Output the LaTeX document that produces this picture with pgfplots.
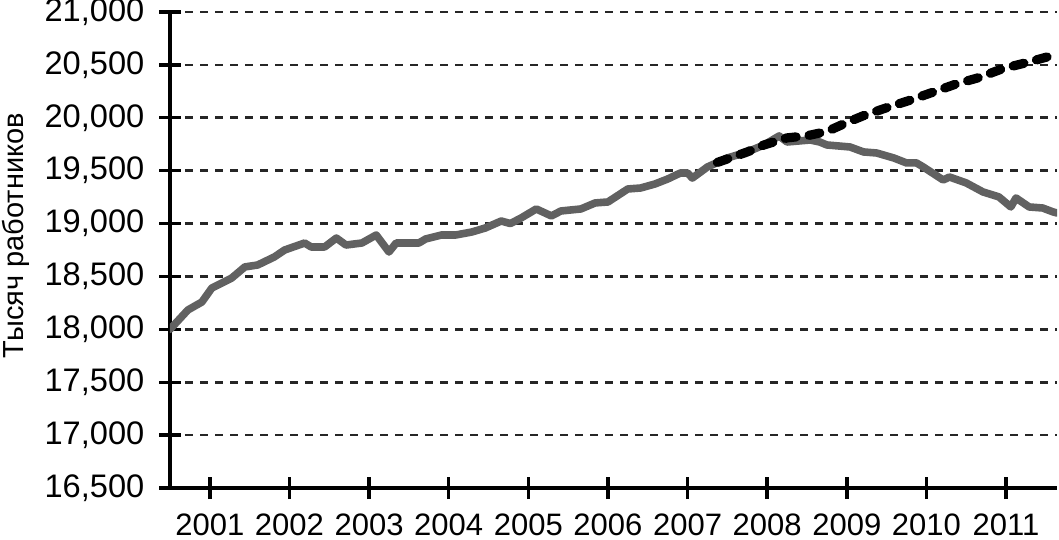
\documentclass[border=0pt]{standalone}
\usepackage{pgfplots}
\pgfplotsset{compat=1.18}
\usepackage{fontspec}
\setmainfont{Liberation Sans}
\begin{document}
\fontsize{14}{16}\selectfont
\begin{tikzpicture}
\begin{axis}[
  name=ax,
  scale only axis,
  width=443.5pt, height=238pt,
  xmin=2000.5, xmax=2011.64,
  ymin=16500, ymax=21000,
  axis lines=left,
  axis line style={-, line width=1.7pt, black},
  xtick={2001,2002,2003,2004,2005,2006,2007,2008,2009,2010,2011},
  xticklabels={2001,2002,2003,2004,2005,2006,2007,2008,2009,2010,2011},
  ytick={16500,17000,17500,18000,18500,19000,19500,20000,20500,21000},
  yticklabels={{16,500},{17,000},{17,500},{18,000},{18,500},{19,000},{19,500},{20,000},{20,500},{21,000}},
  tick align=center,
  major tick length=11pt,
  tick style={line width=1.7pt, black},
  ymajorgrids,
  grid style={dash pattern=on 4pt off 3.5pt, line width=1.3pt, black!85},
  xticklabel style={font=\fontsize{15.5}{17}\selectfont, anchor=north, yshift=-2.5pt},
  yticklabel style={font=\fontsize{16.3}{18}\selectfont, anchor=east, xshift=-2.5pt},
  ylabel={Тысяч работников},
  ylabel style={font=\fontsize{14.5}{16}\selectfont, at={([xshift=-77pt]axis description cs:0,0.53)}, anchor=center, rotate=0},
  clip=true,
]
\addplot[line width=3.8pt, color=black!62, line join=round, line cap=round] coordinates {
(2000.5,18000) (2000.725,18183) (2000.9,18258) (2001.025,18390) (2001.275,18485)
(2001.44,18590) (2001.6,18608) (2001.81,18684) (2001.94,18750) (2002.19,18816)
(2002.275,18778) (2002.44,18778) (2002.59,18863) (2002.71,18797) (2002.91,18816)
(2003.09,18892) (2003.25,18731) (2003.34,18816) (2003.625,18816) (2003.71,18854)
(2003.91,18892) (2004.09,18892) (2004.29,18920) (2004.46,18958) (2004.66,19024)
(2004.775,19000) (2004.91,19053) (2005.1,19138) (2005.29,19072) (2005.41,19119)
(2005.66,19138) (2005.84,19195) (2006.0,19204) (2006.25,19327) (2006.41,19336)
(2006.59,19374) (2006.75,19421) (2006.91,19478) (2007.0,19478) (2007.06,19430)
(2007.25,19535) (2007.5,19620) (2007.75,19677) (2007.96,19743) (2008.15,19828)
(2008.25,19771) (2008.54,19790) (2008.66,19771) (2008.75,19743) (2009.04,19724)
(2009.21,19677) (2009.375,19667) (2009.59,19620) (2009.75,19573) (2009.875,19573)
(2009.96,19535) (2010.21,19412) (2010.29,19440) (2010.5,19384) (2010.71,19299)
(2010.91,19252) (2011.06,19157) (2011.125,19242) (2011.29,19157) (2011.46,19147)
(2011.59,19110) (2011.64,19100)
};
\addplot[line width=4.6pt, black, line cap=round, line join=round, dash pattern=on 5.5pt off 6.5pt] coordinates {
(2007.375,19578) (2007.75,19677) (2007.96,19743) (2008.25,19810) (2008.5,19830)
(2008.75,19870) (2009.0,19955) (2009.21,20020) (2009.5,20095) (2009.79,20165)
(2010.09,20244) (2010.375,20320) (2010.66,20380) (2010.96,20465) (2011.25,20520)
(2011.54,20580) (2011.64,20592)
};
\end{axis}
\pgfresetboundingbox
\path (ax.south west) ++(-85pt,-26pt) coordinate (bl);
\path (ax.north east) ++(1pt,6pt) coordinate (tr);
\path[use as bounding box] (bl) rectangle (tr);
\end{tikzpicture}
\end{document}
